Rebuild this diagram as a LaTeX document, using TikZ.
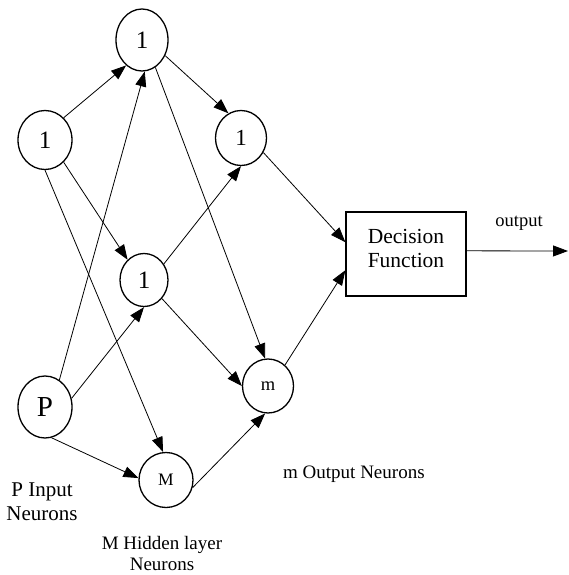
\documentclass[tikz,border=0pt]{standalone}
\usepackage{fontspec}
\setmainfont{Liberation Serif}
\usetikzlibrary{shapes.geometric,arrows.meta}
\begin{document}
\begin{tikzpicture}[x=1pt,y=-1pt,
  neuron/.style={ellipse,draw,line width=1.3pt,inner sep=0pt},
  conn/.style={line width=0.8pt,-{Triangle[length=15pt,width=11pt]}},
  lbl/.style={inner sep=0pt,align=center}]
\useasboundingbox (0,0) rectangle (568,575);
% input neurons
\node[neuron,minimum width=54pt,minimum height=59pt,font=\fontsize{25}{25}\selectfont] (in1) at (45,140) {1};
\node[neuron,minimum width=54pt,minimum height=62pt,font=\fontsize{29}{29}\selectfont] (inP) at (45,407) {P};
% hidden neurons
\node[neuron,minimum width=52pt,minimum height=62pt,font=\fontsize{25}{25}\selectfont] (ht) at (142,40) {1};
\node[neuron,minimum width=48pt,minimum height=53pt,font=\fontsize{25}{25}\selectfont] (hm) at (144,280) {1};
\node[neuron,minimum width=54pt,minimum height=55pt,font=\fontsize{17.5}{17.5}\selectfont] (hM) at (166,480) {M};
% output neurons
\node[neuron,minimum width=51pt,minimum height=55pt,font=\fontsize{23}{23}\selectfont] (o1) at (241,138) {1};
\node[neuron,minimum width=51pt,minimum height=54pt,font=\fontsize{18.5}{18.5}\selectfont] (om) at (268,386) {m};
% decision box
\node[draw,line width=1.3pt,minimum width=120pt,minimum height=84pt,inner sep=0pt,align=center,font=\fontsize{21.5}{24}\selectfont] (box) at (406,254) {Decision\\Function\rule[-12pt]{0pt}{0pt}};
\coordinate (outc) at (568,251);
% labels
\node[lbl,anchor=base,font=\fontsize{21}{24}\selectfont] (lp) at (42,520) {P Input\\Neurons};
\node[lbl,anchor=base,font=\fontsize{19}{21}\selectfont] (lh) at (162,570) {M Hidden layer\\Neurons};
\node[lbl,anchor=base west,font=\fontsize{19}{19}\selectfont] (lo) at (283,478) {m Output Neurons};
\node[lbl,anchor=base,font=\fontsize{18.5}{18.5}\selectfont] (lout) at (519,226) {output};
% connections input -> hidden
\draw[conn] (in1.50) -- (ht.-122);
\draw[conn] (in1.-50) -- (hm.129);
\draw[conn] (in1.south) -- (hM.96);
\draw[conn] (inP.62) -- (ht.-85);
\draw[conn] (inP.18) -- (hm.south);
\draw[conn] (inP.-78) -- (hM.176);
% hidden -> output
\draw[conn] (ht.-34) -- (o1.117);
\draw[conn] (ht.-64) -- (om.96);
\draw[conn] (hm.39) -- (o1.south);
\draw[conn] (hm.-46) -- (om.west);
\draw[conn] (hM.-16) -- (om.-96);
% output -> decision
\draw[conn] (o1.-33) -- (box.169);
\draw[conn] (om.51) -- (box.195);
\draw[conn] (box.3) -- (outc);
\end{tikzpicture}
\end{document}
